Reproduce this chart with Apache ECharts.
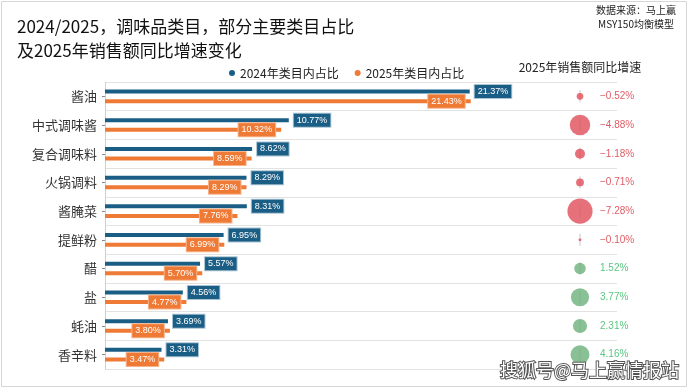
<!DOCTYPE html>
<html>
<head>
<meta charset="utf-8">
<script src="https://cdn.jsdelivr.net/npm/echarts@6/dist/echarts.min.js"></script>
<style>html,body{margin:0;padding:0;background:#fff;}#c{width:690px;height:390px;}</style>
</head>
<body>
<div id="c"></div>
<script>
var categories = ['酱油','中式调味酱','复合调味料','火锅调料','酱腌菜','提鲜粉','醋','盐','蚝油','香辛料'];
var share2024 = [21.37,10.77,8.62,8.29,8.31,6.95,5.57,4.56,3.69,3.31];
var share2025 = [21.43,10.32,8.59,8.29,7.76,6.99,5.70,4.77,3.80,3.47];
var growth2025 = [-0.52,-4.88,-1.18,-0.71,-7.28,-0.10,1.52,3.77,2.31,4.16];
var seriesNames = ['2024年类目内占比','2025年类目内占比'];

var FONT = '"Noto Sans CJK SC", "Noto Sans", sans-serif';
var BLUE = '#1b5e85', ORANGE = '#ef7a35';
var RED = '#e04e5a', GREEN = '#6cb07a';

var chart = echarts.init(document.getElementById('c'), null, {renderer: 'canvas'});

function pct(v){ return v.toFixed(2) + '%'; }

var bubbleData = growth2025.map(function(v, i){
  return {
    value: [0, categories[i], v],
    itemStyle: {color: v < 0 ? RED : GREEN},
    label: {color: v < 0 ? '#d8323d' : '#2fb862'}
  };
});

chart.setOption({
  animation: false,
  textStyle: {fontFamily: FONT},
  title: {
    text: '2024/2025，调味品类目，部分主要类目占比\n及2025年销售额同比增速变化',
    left: 12, top: 10,
    textStyle: {fontSize: 17, lineHeight: 24, fontWeight: 'normal', color: '#111', fontFamily: FONT}
  },
  legend: {
    data: seriesNames,
    left: 224, top: 62,
    icon: 'circle', itemWidth: 6, itemHeight: 6, itemGap: 16,
    textStyle: {fontSize: 12, color: '#222', fontFamily: FONT}
  },
  graphic: [
    {type: 'rect', shape: {x: 1.5, y: 1.5, width: 685, height: 385}, style: {fill: 'none', stroke: '#d6d6d6', lineWidth: 1}, silent: true},
    {type: 'text', x: 636, y: 10, style: {text: '数据来源：马上赢', fontSize: 10, fill: '#222', textAlign: 'center', textVerticalAlign: 'middle', fontFamily: FONT}},
    {type: 'text', x: 636, y: 24, style: {text: 'MSY150均衡模型', fontSize: 10, fill: '#222', textAlign: 'center', textVerticalAlign: 'middle', fontFamily: FONT}},
    {type: 'text', x: 580, y: 67, style: {text: '2025年销售额同比增速', fontSize: 12, fill: '#222', textAlign: 'center', textVerticalAlign: 'middle', fontFamily: FONT}},
    {type: 'text', right: 10, top: 360, z: 100, style: {text: '搜狐号@马上赢情报站', fontSize: 18, fill: '#fff', stroke: '#555', lineWidth: 2, fontFamily: FONT}}
  ],
  grid: [
    {left: 105, right: 73, top: 82, bottom: 21},
    {left: 543, width: 74, top: 82, bottom: 21}
  ],
  xAxis: [
    {type: 'value', gridIndex: 0, min: 0, max: 30, show: false, splitLine: {show: false}},
    {type: 'value', gridIndex: 1, min: -1, max: 1, show: false, splitLine: {show: false}}
  ],
  yAxis: [
    {
      type: 'category', gridIndex: 0, data: categories, inverse: true,
      axisLine: {show: true, lineStyle: {color: '#d0d0d0'}},
      axisTick: {show: true, alignWithLabel: true, length: 3, lineStyle: {color: '#888'}},
      axisLabel: {fontSize: 13, color: '#333', margin: 8, fontFamily: FONT},
      splitLine: {show: true, lineStyle: {color: '#e2e2e2', width: 1}}
    },
    {type: 'category', gridIndex: 1, data: categories, inverse: true, show: false}
  ],
  series: [
    {
      name: seriesNames[0], type: 'bar', xAxisIndex: 0, yAxisIndex: 0,
      data: share2024, barWidth: 4, barGap: '140%',
      itemStyle: {color: BLUE},
      label: {
        show: true, position: 'right', distance: 5, formatter: function(p){ return pct(p.value); },
        fontSize: 9, color: '#fff', backgroundColor: BLUE, padding: [2, 3],
        borderColor: '#a9c4d4', borderWidth: 1, fontFamily: '"Liberation Sans", sans-serif'
      }
    },
    {
      name: seriesNames[1], type: 'bar', xAxisIndex: 0, yAxisIndex: 0,
      data: share2025, barWidth: 4,
      itemStyle: {color: ORANGE},
      label: {
        show: true, position: 'insideRight', distance: 6, formatter: function(p){ return pct(p.value); },
        fontSize: 9, color: '#fff', backgroundColor: ORANGE, padding: [2, 3],
        borderColor: '#f6b48c', borderWidth: 1, fontFamily: '"Liberation Sans", sans-serif'
      }
    },
    {
      type: 'scatter', xAxisIndex: 1, yAxisIndex: 1, silent: true, z: 1,
      data: categories.map(function(c){ return [0, c]; }),
      symbol: 'rect', symbolSize: [1.5, 12],
      itemStyle: {color: '#cfcfcf'}
    },
    {
      type: 'scatter', xAxisIndex: 1, yAxisIndex: 1, z: 3,
      data: bubbleData,
      symbolSize: function(v){ return 9.3 * Math.sqrt(Math.abs(v[2])); },
      label: {
        show: true, position: 'inside', align: 'left', offset: [20, 0],
        fontSize: 10, fontFamily: '"Liberation Sans", sans-serif',
        formatter: function(p){ return (p.value[2] < 0 ? '−' : '') + Math.abs(p.value[2]).toFixed(2) + '%'; }
      }
    }
  ]
});
</script>
</body>
</html>
